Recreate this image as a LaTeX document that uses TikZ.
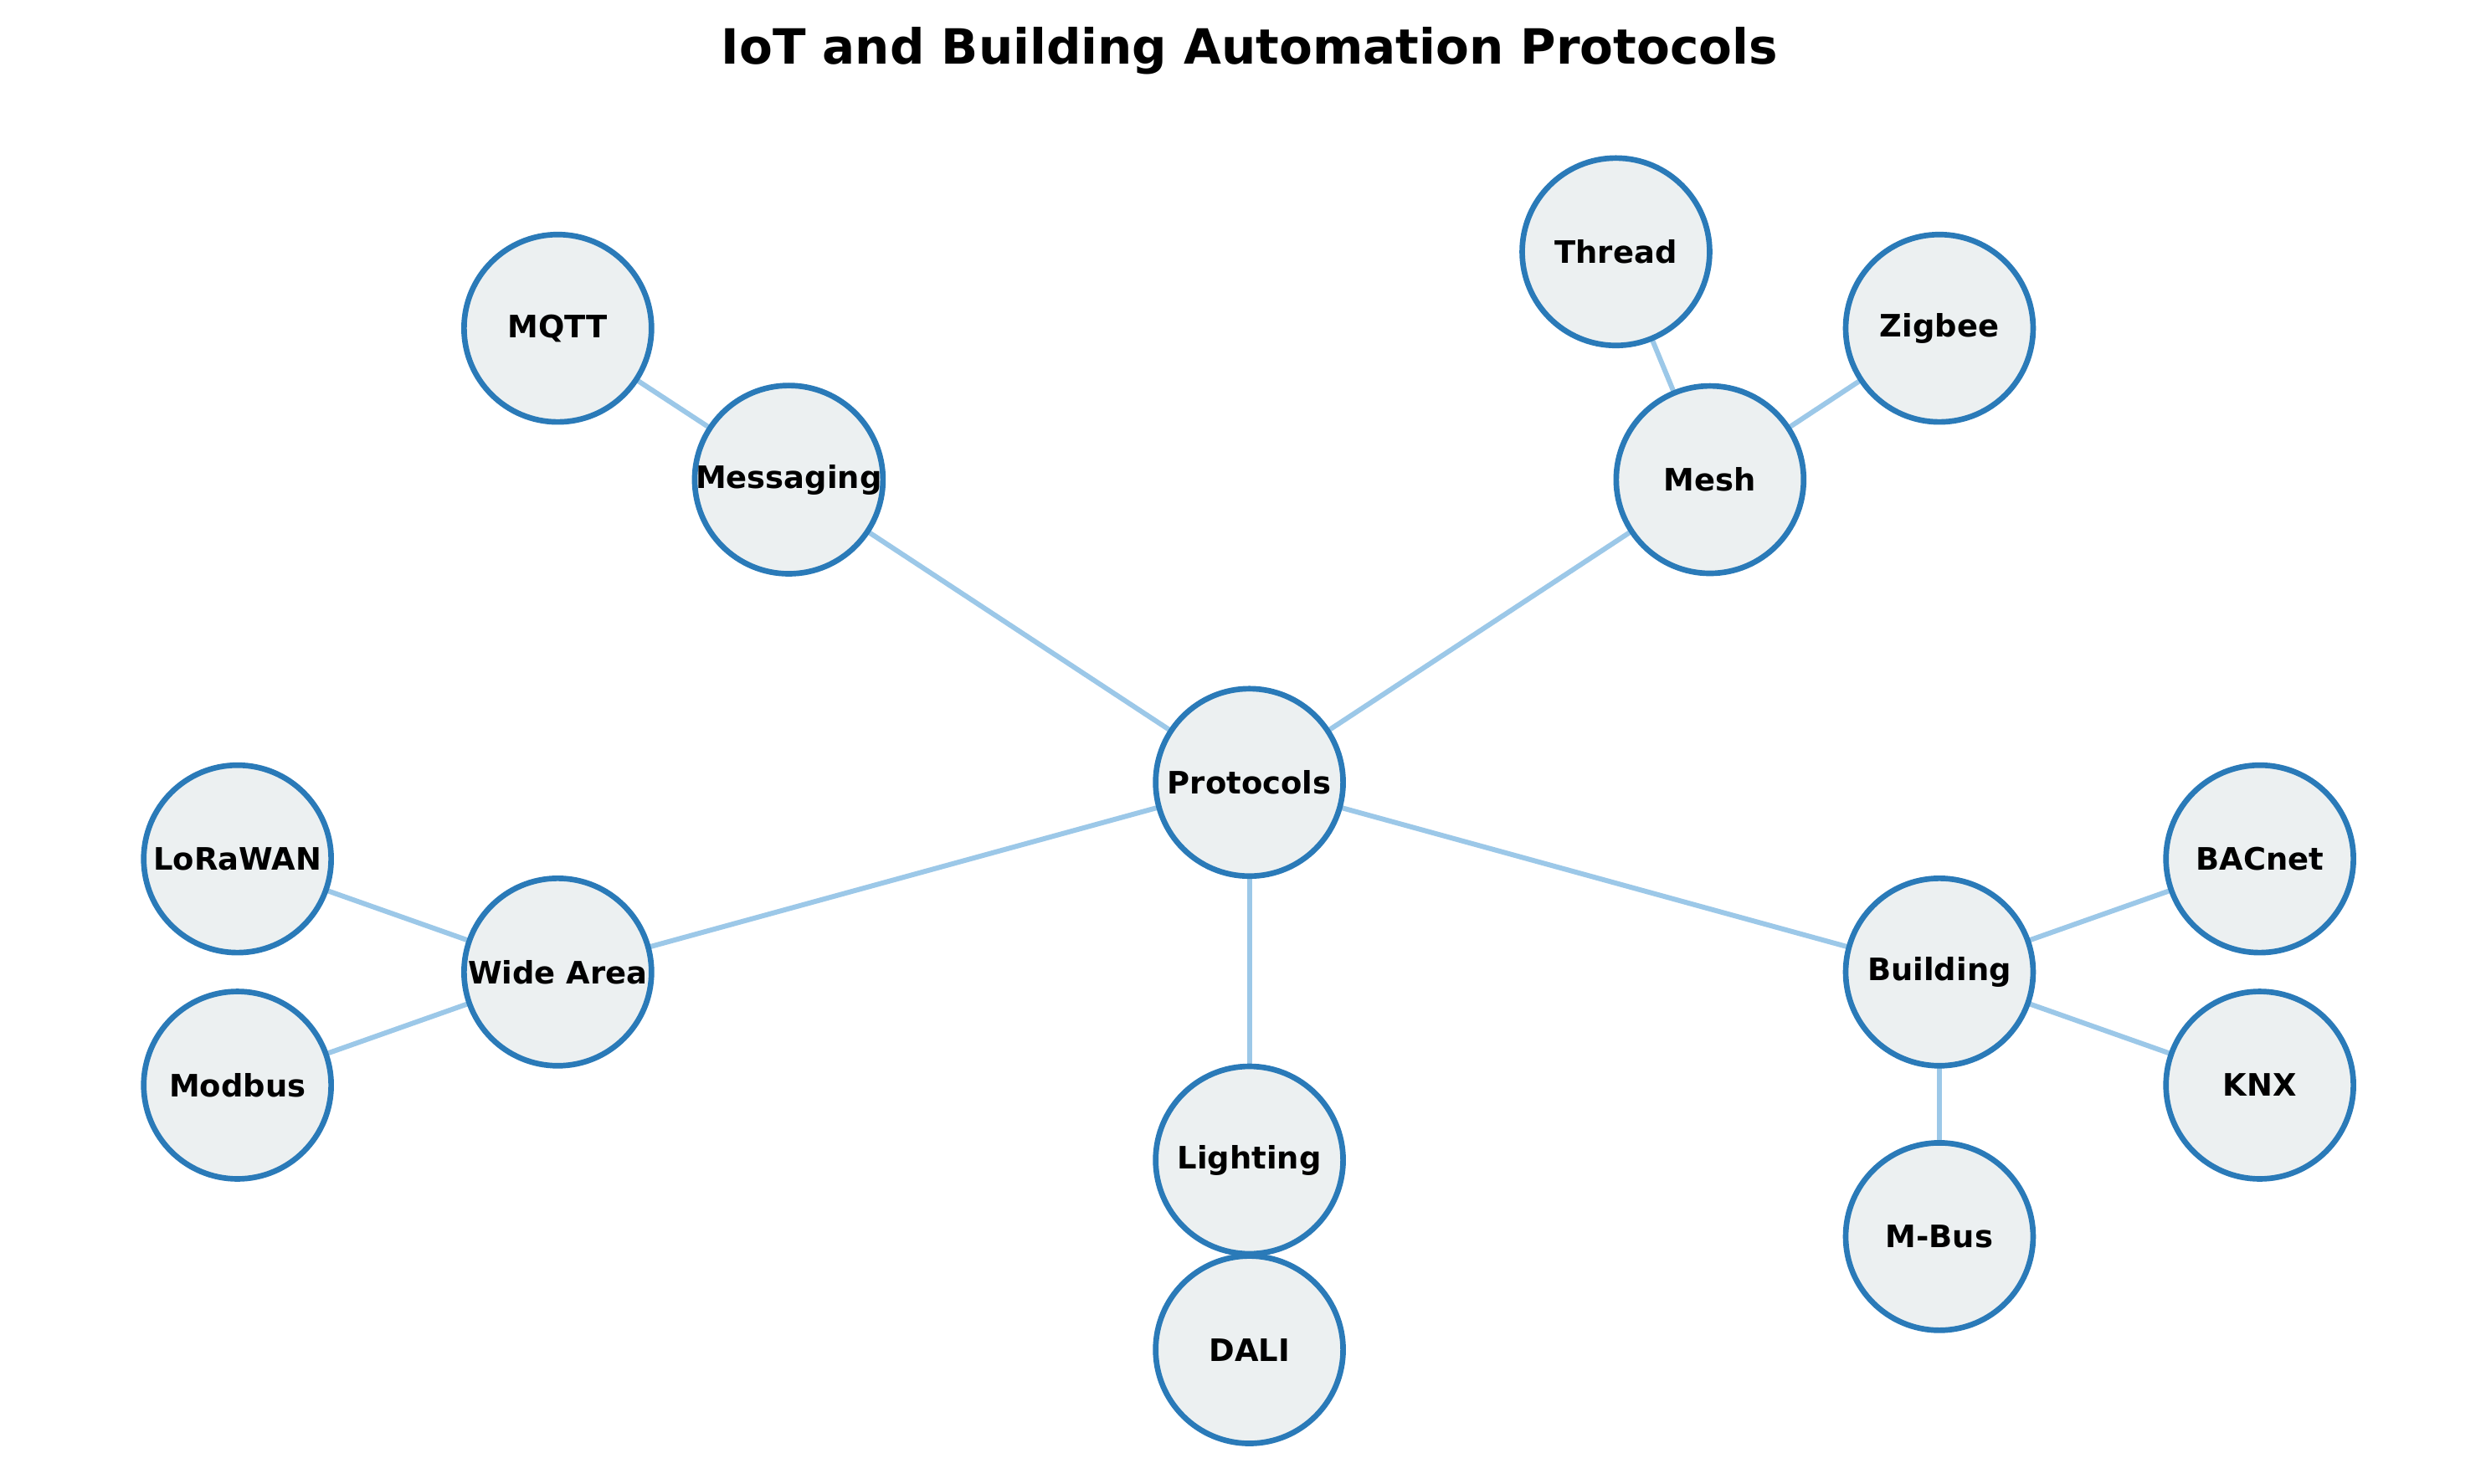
\documentclass[tikz,border=0pt]{standalone}
\usepackage{fontspec}
\setmainfont{DejaVu Sans}
\usetikzlibrary{backgrounds}
\definecolor{bord}{HTML}{2A7AB8}
\definecolor{fillc}{HTML}{ECF0F1}
\definecolor{edgec}{HTML}{9CC8E8}
\begin{document}
\begin{tikzpicture}[x=0.01904cm,y=-0.01904cm,
  nd/.style={circle,draw=bord,fill=fillc,line width=1.9pt,minimum size=2.24cm,inner sep=0pt,font=\bfseries\fontsize{10.5}{12}\selectfont},
  ed/.style={draw=edgec,line width=1.7pt}]
\useasboundingbox (0,0) rectangle (1560,931);
\node[font=\bfseries\fontsize{16.5}{20}\selectfont] (title) at (784,32) {IoT and Building Automation Protocols};
\node[nd] (P) at (784,491) {Protocols};
\node[nd] (Msg) at (495,301) {Messaging};
\node[nd] (MQTT) at (350,206) {MQTT};
\node[nd] (Mesh) at (1073,301) {Mesh};
\node[nd] (Thr) at (1014,158) {Thread};
\node[nd] (Zig) at (1217,206) {Zigbee};
\node[nd] (WA) at (350,610) {Wide Area};
\node[nd] (Lora) at (149,539) {LoRaWAN};
\node[nd] (Mod) at (149,681) {Modbus};
\node[nd] (Li) at (784,728) {Lighting};
\node[nd] (Dali) at (784,847) {DALI};
\node[nd] (B) at (1217,610) {Building};
\node[nd] (BAC) at (1418,539) {BACnet};
\node[nd] (KNX) at (1418,681) {KNX};
\node[nd] (MB) at (1217,776) {M-Bus};
\begin{scope}[on background layer]
\draw[ed] (P.center)--(Msg.center);
\draw[ed] (P.center)--(Mesh.center);
\draw[ed] (P.center)--(WA.center);
\draw[ed] (P.center)--(Li.center);
\draw[ed] (P.center)--(B.center);
\draw[ed] (Msg.center)--(MQTT.center);
\draw[ed] (Mesh.center)--(Thr.center);
\draw[ed] (Mesh.center)--(Zig.center);
\draw[ed] (WA.center)--(Lora.center);
\draw[ed] (WA.center)--(Mod.center);
\draw[ed] (Li.center)--(Dali.center);
\draw[ed] (B.center)--(BAC.center);
\draw[ed] (B.center)--(KNX.center);
\draw[ed] (B.center)--(MB.center);
\end{scope}
\end{tikzpicture}
\end{document}
